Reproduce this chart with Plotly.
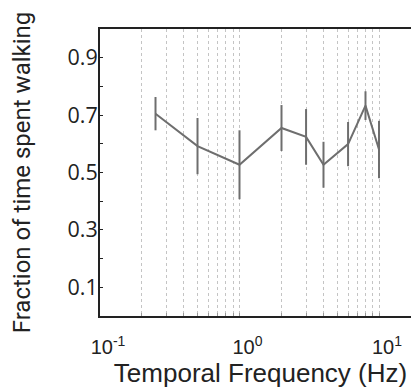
import plotly.graph_objects as go
import math

# Data
freq_hz = [0.25, 0.5, 1, 2, 3, 4, 6, 8, 10]
frac_walking = [0.705, 0.592, 0.527, 0.655, 0.624, 0.527, 0.599, 0.733, 0.580]
sem = [0.058, 0.098, 0.120, 0.080, 0.097, 0.080, 0.077, 0.050, 0.100]

x_limits = [0.1, 20]
x_tickvals = [0.1, 1, 10]
x_ticktext = ["10<sup>-1</sup>", "10<sup>0</sup>", "10<sup>1</sup>"]
x_gridvals = [0.2, 0.3, 0.4, 0.5, 0.6, 0.7, 0.8, 0.9, 1, 2, 3, 4, 5, 6, 7, 8, 9, 10, 20]
y_tickvals = [0.1, 0.2, 0.3, 0.4, 0.5, 0.6, 0.7, 0.8, 0.9]
y_ticktext = ["0.1", "", "0.3", "", "0.5", "", "0.7", "", "0.9"]

line_color = "#6e6e6e"
axis_color = "#222222"

fig = go.Figure()
fig.add_trace(go.Scatter(
    x=freq_hz, y=frac_walking, mode="lines",
    line=dict(color=line_color, width=2),
    error_y=dict(type="data", array=sem, visible=True, thickness=2, width=0, color=line_color),
    showlegend=False,
))

fig.update_layout(
    width=419, height=389,
    margin=dict(l=92, r=6, t=21, b=81, autoexpand=False),
    plot_bgcolor="white", paper_bgcolor="white",
    xaxis=dict(
        type="log", range=[math.log10(x_limits[0]), math.log10(x_limits[1])], automargin=False,
        tickmode="array", tickvals=x_tickvals, ticktext=x_ticktext,
        showgrid=False, zeroline=False,
        showline=True, linecolor=axis_color, linewidth=2, mirror=True,
        ticks="", ticklabelstandoff=12, ticklabelshift=8,
        tickfont=dict(family="Liberation Sans", size=20, color=axis_color),
        minor=dict(tickvals=x_gridvals, showgrid=True, gridcolor="#c4c4c4",
                   griddash="dot", gridwidth=1, ticks="inside", ticklen=3,
                   tickcolor="#999999"),
        title=dict(text="Temporal Frequency (Hz)",
                   font=dict(family="Liberation Sans", size=26, color=axis_color),
                   standoff=4),
    ),
    yaxis=dict(
        range=[0, 1], automargin=False,
        tickmode="array", tickvals=y_tickvals, ticktext=y_ticktext,
        showgrid=False, zeroline=False,
        showline=True, linecolor=axis_color, linewidth=2, mirror="ticks",
        ticks="inside", ticklen=3, tickcolor=axis_color, tickwidth=1,
        ticklabelstandoff=-4,
        tickfont=dict(family="Open Sans", size=21.5, color=axis_color),
        title=dict(text="Fraction of time spent walking",
                   font=dict(family="Roboto", size=24, color=axis_color),
                   standoff=31),
    ),
)

fig.write_html("out.html")
